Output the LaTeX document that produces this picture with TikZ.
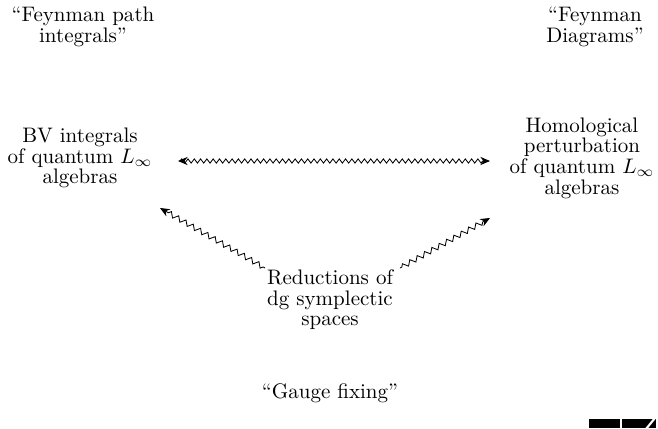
\documentclass[tikz,border=0pt]{standalone}
\usetikzlibrary{decorations.pathmorphing,arrows.meta,calc}
\begin{document}
\begin{tikzpicture}[x=0.476pt,y=-0.476pt,
  lbl/.style={align=center,inner sep=0pt,font=\fontsize{10pt}{9.8pt}\selectfont},
  sq/.style={decorate,decoration={zigzag,segment length=3pt,amplitude=1pt,pre length=1pt,post length=3.5pt}},
  sqd/.style={decorate,decoration={zigzag,segment length=4pt,amplitude=1.2pt,pre length=1pt,post length=3.5pt}},
  tip/.style={-{Stealth[length=4.6pt,width=3.9pt,inset=1.5pt]}},
  tips/.style={{Stealth[length=4.6pt,width=3.9pt,inset=1.5pt]}-{Stealth[length=4.6pt,width=3.9pt,inset=1.5pt]}}]
\useasboundingbox (0,0) rectangle (658,428);
\node[lbl] (fpi) at (83,27) {``Feynman path\\integrals''};
\node[lbl] (fd) at (595,27) {``Feynman\\Diagrams''};
\node[lbl] (bv) at (80,158) {BV integrals\\of quantum $L_\infty$\\algebras};
\node[lbl] (hp) at (582,158) {Homological\\perturbation\\of quantum $L_\infty$\\algebras};
\node[lbl] (red) at (330,300) {Reductions of\\dg symplectic\\spaces};
\node[lbl] (gf) at (330,393) {``Gauge fixing''};
\draw[sq,tips] ($(bv)+(98,3)$) -- ($(hp)+(-92,3)$);
\draw[sqd,tip] ($(red)+(-65,-32)$) -- ($(bv)+(80,50)$);
\draw[sqd,tip] ($(red)+(70,-32)$) -- ($(hp)+(-92,60)$);
\fill (589,419) rectangle (620,428);
\fill (622,419) rectangle (656,428);
\draw[white,line width=1pt] (646,429) -- (655,418);
\end{tikzpicture}
\end{document}
